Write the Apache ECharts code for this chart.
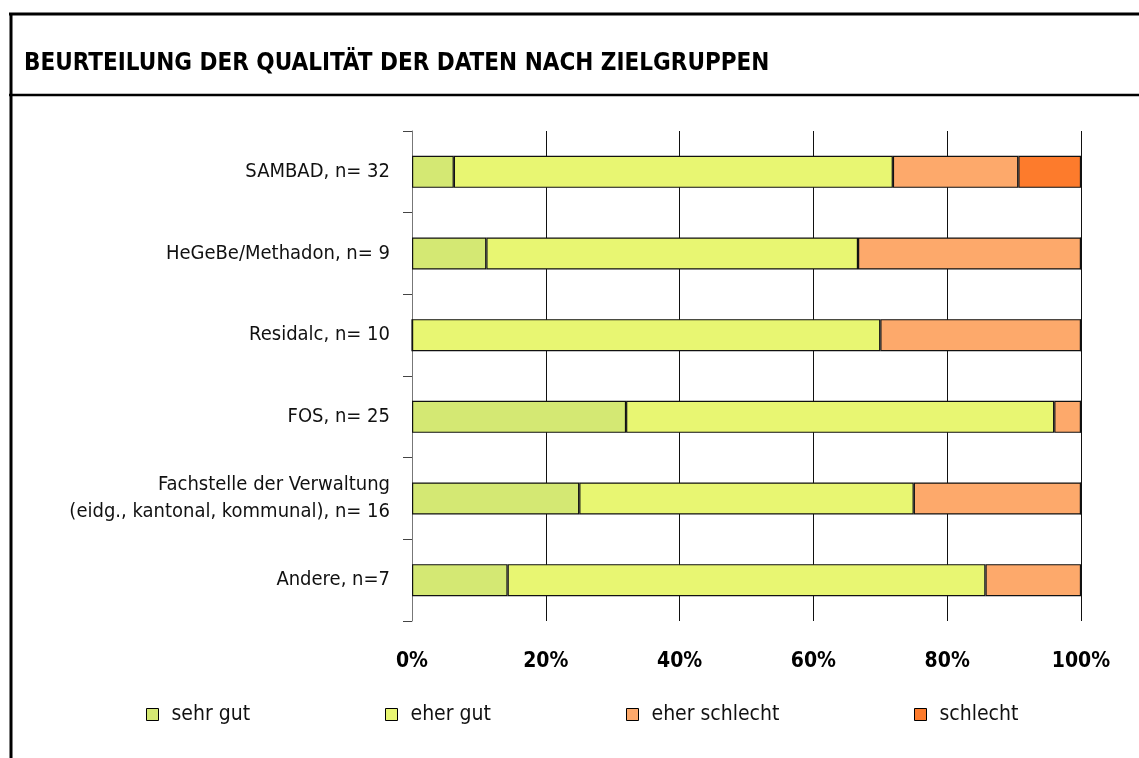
<!DOCTYPE html>
<html>
<head>
<meta charset="utf-8">
<script src="https://cdn.jsdelivr.net/npm/echarts@6/dist/echarts.min.js"></script>
<style>
html,body{margin:0;padding:0;background:#fff;}
#chart{width:1139px;height:758px;}
</style>
</head>
<body>
<div id="chart"></div>
<script>
const titleText = 'BEURTEILUNG DER QUALITÄT DER DATEN NACH ZIELGRUPPEN';
const categories = ['SAMBAD, n= 32', 'HeGeBe/Methadon, n= 9', 'Residalc, n= 10', 'FOS, n= 25', 'Fachstelle der Verwaltung\n(eidg., kantonal, kommunal), n= 16', 'Andere, n=7'];
const seriesNames = ['sehr gut', 'eher gut', 'eher schlecht', 'schlecht'];
const sehrGut = [6.25, 11.11, 0, 32, 25, 14.29];
const eherGut = [65.63, 55.56, 70, 64, 50, 71.43];
const eherSchlecht = [18.75, 33.33, 30, 4, 25, 14.29];
const schlecht = [9.38, 0, 0, 0, 0, 0];
const xTicks = [0, 20, 40, 60, 80, 100];
const colors = ['#d4e873', '#e8f672', '#fda96b', '#fd7b2c'];

const FONT = 'DejaVu Sans Condensed';
const values = [sehrGut, eherGut, eherSchlecht, schlecht];

const chart = echarts.init(document.getElementById('chart'), null, {renderer: 'canvas'});
const legendLeft = [146, 385, 626, 914];

const option = {
  backgroundColor: '#fff',
  animation: false,
  textStyle: {fontFamily: FONT},
  grid: {left: 412, right: 58, top: 131, bottom: 137, containLabel: false},
  xAxis: {
    type: 'value', min: xTicks[0], max: xTicks[xTicks.length - 1], interval: 20,
    axisLine: {show: false}, axisTick: {show: false},
    splitLine: {show: true, lineStyle: {color: '#111', width: 1}},
    axisLabel: {formatter: '{value}%', fontSize: 21, fontWeight: 'bold', color: '#000', margin: 30, fontFamily: FONT}
  },
  yAxis: {
    type: 'category', data: categories, inverse: true,
    axisLine: {show: true, lineStyle: {color: '#777', width: 1}},
    axisTick: {show: true, length: 9, lineStyle: {color: '#444'}},
    axisLabel: {fontSize: 20, color: '#111', margin: 22, lineHeight: 27, align: 'right', fontFamily: FONT},
    splitLine: {show: false}
  },
  legend: legendLeft.map((x, i) => ({
    data: [seriesNames[i]], left: x, top: 702, padding: 0, itemWidth: 12, itemHeight: 12, itemGap: 4,
    selectedMode: false, icon: 'rect',
    textStyle: {fontSize: 21, lineHeight: 21, color: '#111', fontFamily: FONT, padding: [0, 0, 4, 8]},
    itemStyle: {borderColor: '#000', borderWidth: 1}
  })),
  series: seriesNames.map((name, i) => ({
    name: name, type: 'bar', stack: 'total', data: values[i],
    barWidth: 32,
    itemStyle: {color: colors[i], borderColor: '#111', borderWidth: 1.2},
    emphasis: {disabled: true}
  })),
  graphic: [
    {type: 'line', shape: {x1: 9, y1: 14, x2: 1139, y2: 14}, style: {stroke: '#000', lineWidth: 3}},
    {type: 'line', shape: {x1: 9, y1: 95, x2: 1139, y2: 95}, style: {stroke: '#000', lineWidth: 2.5}},
    {type: 'line', shape: {x1: 11, y1: 13, x2: 11, y2: 758}, style: {stroke: '#000', lineWidth: 3}},
    {type: 'text', left: 24, top: 52, style: {text: titleText, fontFamily: FONT, fontSize: 24, fontWeight: 'bold', fill: '#000'}}
  ]
};
chart.setOption(option);
</script>
</body>
</html>
